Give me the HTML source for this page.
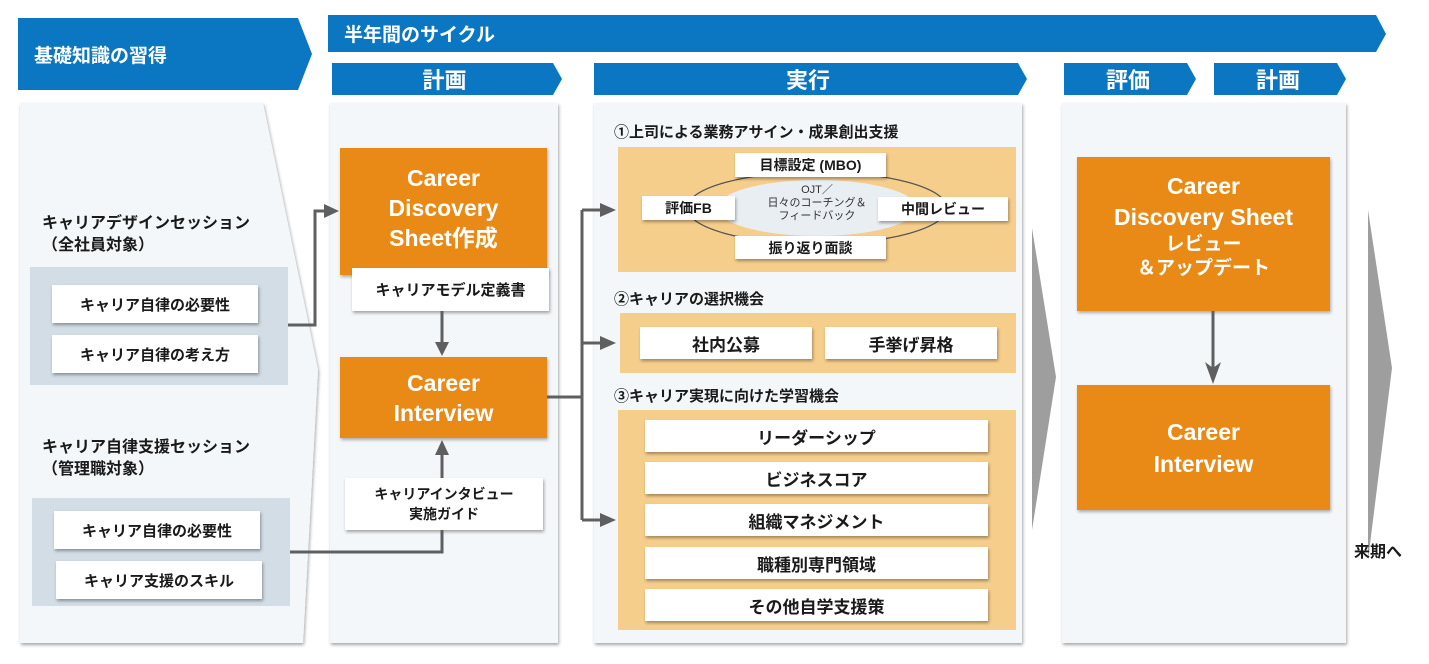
<!DOCTYPE html>
<html><head><meta charset="utf-8"><style>
html,body{margin:0;padding:0;background:#fff}
body{width:1429px;height:664px;overflow:hidden;position:relative;font-family:"Liberation Sans","Noto Sans CJK JP",sans-serif;font-weight:bold;color:#1a1a1a}
.a{position:absolute;box-sizing:border-box}
.panel{background:#f4f7fa;box-shadow:1px 2px 3px rgba(0,0,0,.35)}
.or{background:#e98a16;color:#fff;display:flex;align-items:center;justify-content:center;text-align:center;box-shadow:1px 2px 3px rgba(0,0,0,.3)}
.wb{background:#fff;display:flex;align-items:center;justify-content:center;text-align:center;box-shadow:1px 2px 3px rgba(0,0,0,.35)}
.tan{background:#f6ce8c}
.gb{background:#d2dde5}
.hd{color:#fff;display:flex;align-items:center;justify-content:center}
</style></head><body>
<svg class="a" style="left:0;top:0" width="1429" height="664">
<polygon points="18,18 298,18 312,54 298,90 18,90" fill="#0b77c2"/>
<polygon points="328,15 1376,15 1386,34 1376,52 328,52" fill="#0b77c2"/>
<polygon points="332,63 553,63 562,79 553,95 332,95" fill="#0b77c2"/>
<polygon points="594,63 1018,63 1027,79 1018,95 594,95" fill="#0b77c2"/>
<polygon points="1064,63 1187,63 1196,79 1187,95 1064,95" fill="#0b77c2"/>
<polygon points="1214,63 1337,63 1346,79 1337,95 1214,95" fill="#0b77c2"/>
<defs><filter id="sh"><feDropShadow dx="1" dy="2" stdDeviation="1.5" flood-opacity="0.35"/></filter></defs>
<polygon points="20,103 263,103 318,370 303,643 20,643" fill="#f4f7fa" filter="url(#sh)"/>
<polygon points="1032,228 1056,377 1032,530" fill="#9e9e9e"/>
<polygon points="1368,210 1392,368 1368,560" fill="#9e9e9e"/>
</svg>
<div class="a hd" style="left:18px;top:18px;width:200px;height:72px;font-size:19px;justify-content:flex-start;padding-left:16px">基礎知識の習得</div>
<div class="a hd" style="left:328px;top:15px;width:300px;height:37px;font-size:19px;justify-content:flex-start;padding-left:16px">半年間のサイクル</div>
<div class="a hd" style="left:332px;top:63px;width:225px;height:32px;font-size:22px">計画</div>
<div class="a hd" style="left:594px;top:63px;width:428px;height:32px;font-size:22px">実行</div>
<div class="a hd" style="left:1064px;top:63px;width:128px;height:32px;font-size:22px">評価</div>
<div class="a hd" style="left:1214px;top:63px;width:128px;height:32px;font-size:22px">計画</div>

<div class="a panel" style="left:330px;top:103px;width:228px;height:540px"></div>
<div class="a panel" style="left:594px;top:103px;width:428px;height:540px"></div>
<div class="a panel" style="left:1062px;top:103px;width:284px;height:540px"></div>

<!-- left -->
<div class="a" style="left:42px;top:213px;font-size:16px;line-height:22px">キャリアデザインセッション<br>（全社員対象）</div>
<div class="a gb" style="left:30px;top:267px;width:258px;height:118px"></div>
<div class="a wb" style="left:52px;top:285px;width:206px;height:38px;font-size:15px">キャリア自律の必要性</div>
<div class="a wb" style="left:52px;top:335px;width:206px;height:38px;font-size:15px">キャリア自律の考え方</div>
<div class="a" style="left:42px;top:437px;font-size:16px;line-height:22px">キャリア自律支援セッション<br>（管理職対象）</div>
<div class="a gb" style="left:32px;top:498px;width:258px;height:108px"></div>
<div class="a wb" style="left:54px;top:511px;width:206px;height:38px;font-size:15px">キャリア自律の必要性</div>
<div class="a wb" style="left:56px;top:561px;width:206px;height:38px;font-size:15px">キャリア支援のスキル</div>

<!-- plan -->
<div class="a or" style="left:340px;top:148px;width:207px;height:127px;font-size:23px;line-height:30px;padding-bottom:8px">Career<br>Discovery<br>Sheet作成</div>
<div class="a wb" style="left:352px;top:268px;width:197px;height:43px;font-size:15px">キャリアモデル定義書</div>
<div class="a or" style="left:340px;top:357px;width:207px;height:81px;font-size:23px;line-height:30px">Career<br>Interview</div>
<div class="a wb" style="left:345px;top:478px;width:198px;height:52px;font-size:14px;line-height:20px">キャリアインタビュー<br>実施ガイド</div>

<!-- exec -->
<div class="a" style="left:614px;top:121px;font-size:15px">①上司による業務アサイン・成果創出支援</div>
<div class="a tan" style="left:618px;top:147px;width:398px;height:125px"></div>
<svg class="a" style="left:618px;top:147px" width="398" height="125">
<ellipse cx="199" cy="61" rx="130" ry="36" fill="none" stroke="#555" stroke-width="1.3"/>
<ellipse cx="199" cy="61" rx="100" ry="28" fill="#e9eef3"/>
</svg>
<div class="a" style="left:740px;top:184px;width:154px;text-align:center;font-weight:normal;font-size:11px;line-height:13px;color:#333">OJT／<br>日々のコーチング＆<br>フィードバック</div>
<div class="a wb" style="left:735px;top:153px;width:151px;height:24px;font-size:14px">目標設定 (MBO)</div>
<div class="a wb" style="left:642px;top:196px;width:93px;height:24px;font-size:14px">評価FB</div>
<div class="a wb" style="left:878px;top:197px;width:130px;height:24px;font-size:14px">中間レビュー</div>
<div class="a wb" style="left:735px;top:236px;width:151px;height:23px;font-size:14px">振り返り面談</div>
<div class="a" style="left:614px;top:288px;font-size:15px">②キャリアの選択機会</div>
<div class="a tan" style="left:620px;top:313px;width:396px;height:60px"></div>
<div class="a wb" style="left:640px;top:327px;width:172px;height:32px;font-size:17px">社内公募</div>
<div class="a wb" style="left:825px;top:327px;width:172px;height:32px;font-size:17px">手挙げ昇格</div>
<div class="a" style="left:614px;top:385px;font-size:15px">③キャリア実現に向けた学習機会</div>
<div class="a tan" style="left:618px;top:410px;width:398px;height:220px"></div>
<div class="a wb" style="left:645px;top:420px;width:343px;height:32px;font-size:17px">リーダーシップ</div>
<div class="a wb" style="left:645px;top:462px;width:343px;height:32px;font-size:17px">ビジネスコア</div>
<div class="a wb" style="left:645px;top:504px;width:343px;height:32px;font-size:17px">組織マネジメント</div>
<div class="a wb" style="left:645px;top:547px;width:343px;height:32px;font-size:17px">職種別専門領域</div>
<div class="a wb" style="left:645px;top:589px;width:343px;height:32px;font-size:17px">その他自学支援策</div>

<!-- eval -->
<div class="a or" style="left:1077px;top:157px;width:253px;height:154px;flex-direction:column;font-size:23px;line-height:31px;padding-bottom:16px"><div>Career<br>Discovery Sheet</div><div style="font-size:19px;line-height:24px">レビュー<br>＆アップデート</div></div>
<div class="a or" style="left:1077px;top:385px;width:253px;height:125px;font-size:23px;line-height:32px">Career<br>Interview</div>
<div class="a" style="left:1354px;top:538px;font-size:16px">来期へ</div>

<svg class="a" style="left:0;top:0" width="1429" height="664">
<g stroke="#5f5f5f" stroke-width="3" fill="none">
<polyline points="288,325 315,325 315,211 326,211"/>
<polyline points="290,552 442,552 442,530"/>
<line x1="442" y1="478" x2="442" y2="455"/>
<line x1="442" y1="311" x2="442" y2="343"/>
<polyline points="547,397 582,397"/>
<line x1="582" y1="210" x2="582" y2="520"/>
<line x1="582" y1="210" x2="602" y2="210"/>
<line x1="582" y1="343" x2="602" y2="343"/>
<line x1="582" y1="520" x2="602" y2="520"/>
<line x1="1213" y1="311" x2="1213" y2="368"/>
</g>
<g fill="#5f5f5f">
<polygon points="324,204 339,211 324,218"/>
<polygon points="435,455 442,440 449,455"/>
<polygon points="435,342 442,356 449,342"/>
<polygon points="600,203 616,210 600,217"/>
<polygon points="600,336 616,343 600,350"/>
<polygon points="600,513 616,520 600,527"/>
<polygon points="1205,362 1213,384 1221,362 1213,368"/>
</g>
</svg>
</body></html>
